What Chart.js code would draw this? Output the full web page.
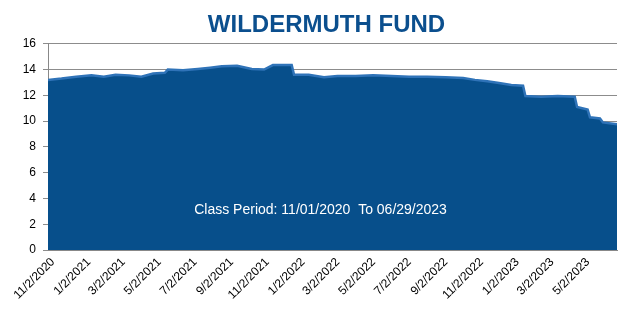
<!DOCTYPE html>
<html>
<head>
<meta charset="utf-8">
<script src="https://cdn.jsdelivr.net/npm/chart.js@4.4.0/dist/chart.umd.min.js"></script>
<style>
  html, body { margin: 0; padding: 0; background: #fff; }
  #wrap { width: 638px; height: 313px; position: relative; }
</style>
</head>
<body>
<div id="wrap"><canvas id="fundChart"></canvas></div>
<script>
// dates (m/d/yyyy) and NAV values
const navDates = [
  '11/2/2020','11/25/2020','12/20/2020','1/15/2021','2/5/2021','2/25/2021',
  '3/20/2021','4/10/2021','4/30/2021','5/20/2021','5/25/2021','6/20/2021',
  '7/15/2021','8/5/2021','8/25/2021','9/20/2021','10/15/2021','11/5/2021',
  '11/20/2021','12/22/2021','12/26/2021','1/20/2022','2/15/2022','3/10/2022',
  '4/10/2022','5/10/2022','6/10/2022','7/10/2022','8/10/2022','9/10/2022',
  '10/10/2022','10/30/2022','11/20/2022','12/10/2022','12/31/2022','1/20/2023',
  '1/24/2023','2/20/2023','3/20/2023','4/18/2023','4/22/2023','5/10/2023',
  '5/14/2023','5/31/2023','6/5/2023','6/29/2023'
];
const navValues = [
  13.2, 13.3, 13.45, 13.55, 13.45, 13.6,
  13.55, 13.45, 13.7, 13.75, 14.0, 13.95,
  14.05, 14.15, 14.25, 14.3, 14.05, 14.0,
  14.35, 14.35, 13.6, 13.6, 13.4, 13.5,
  13.5, 13.55, 13.5, 13.45, 13.45, 13.4,
  13.35, 13.2, 13.1, 12.95, 12.8, 12.75,
  11.95, 11.9, 11.95, 11.9, 11.1, 10.9,
  10.3, 10.2, 9.9, 9.75
];
const tickDates = [
  '11/2/2020','1/2/2021','3/2/2021','5/2/2021','7/2/2021','9/2/2021',
  '11/2/2021','1/2/2022','3/2/2022','5/2/2022','7/2/2022','9/2/2022',
  '11/2/2022','1/2/2023','3/2/2023','5/2/2023'
];
const startDate = '11/2/2020';
const endDate = '6/29/2023';
const chartTitle = 'WILDERMUTH FUND';
const periodNote = 'Class Period: 11/01/2020  To 06/29/2023';

const toDay = (s) => {
  const p = s.split('/').map(Number);
  return Math.round((Date.UTC(p[2], p[0] - 1, p[1]) - Date.UTC(2020, 10, 2)) / 86400000);
};
const dayLabel = {};
tickDates.forEach((d) => { dayLabel[toDay(d)] = d; });

const points = navDates.map((d, i) => ({ x: toDay(d), y: navValues[i] }));

// title over the plot centre + white note inside the area
const textPlugin = {
  id: 'texts',
  afterDatasetsDraw(chart) {
    const ctx = chart.ctx;
    const a = chart.chartArea;
    ctx.save();
    ctx.textAlign = 'center';
    ctx.textBaseline = 'middle';
    ctx.fillStyle = '#0b4f8e';
    ctx.font = 'bold 24px "Liberation Sans", Arial, sans-serif';
    ctx.fillText(chartTitle, (a.left + a.right) / 2 - 6, 25);
    ctx.fillStyle = '#ffffff';
    ctx.font = '14px "Liberation Sans", Arial, sans-serif';
    ctx.fillText(periodNote, a.left + (a.right - a.left) * 0.479, a.top + 166);
    ctx.restore();
  }
};

new Chart('fundChart', {
  type: 'line',
  data: {
    datasets: [{
      data: points,
      fill: 'origin',
      backgroundColor: '#074f8b',
      borderColor: '#2f73b8',
      borderWidth: 2.5,
      pointRadius: 0,
      tension: 0
    }]
  },
  options: {
    responsive: true,
    maintainAspectRatio: false,
    animation: false,
    layout: { padding: { left: 0, right: 21, top: 0, bottom: 0 } },
    plugins: {
      legend: { display: false },
      tooltip: { enabled: false },
      title: {
        // only reserves the space, the text is drawn by textPlugin
        display: true,
        text: ' ',
        font: { size: 24 },
        padding: { top: 10, bottom: 5 }
      }
    },
    scales: {
      x: {
        type: 'linear',
        min: toDay(startDate),
        max: toDay(endDate),
        afterBuildTicks: (scale) => {
          scale.ticks = tickDates.map((d) => ({ value: toDay(d) }));
        },
        afterFit: (scale) => { scale.height = 63; },
        grid: { display: false, drawTicks: true, tickLength: 5, tickColor: '#888' },
        border: { display: true, color: '#888' },
        ticks: {
          autoSkip: false,
          maxRotation: 45,
          minRotation: 45,
          padding: 0,
          labelOffset: 5,
          color: '#000',
          font: { family: '"Liberation Sans", Arial, sans-serif', size: 12 },
          callback: (v) => dayLabel[v] || ''
        }
      },
      y: {
        min: 0,
        max: 16,
        afterFit: (scale) => { scale.width = 48; },
        grid: { color: '#8c8c8c', lineWidth: 1, tickLength: 5 },
        border: { display: true, color: '#888' },
        ticks: {
          stepSize: 2,
          padding: 7,
          color: '#000',
          font: { family: '"Liberation Sans", Arial, sans-serif', size: 12 }
        }
      }
    }
  },
  plugins: [textPlugin]
});
</script>
</body>
</html>
